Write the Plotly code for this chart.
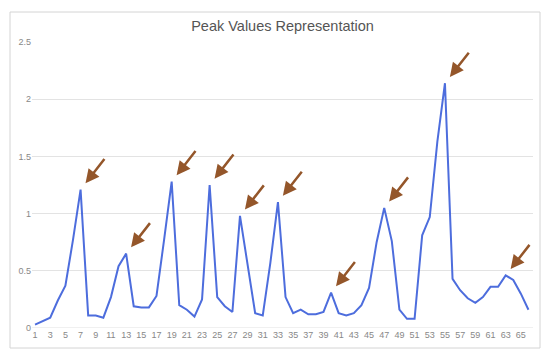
import plotly.graph_objects as go

# Data
x_index = list(range(1, 67))
values = [0.03, 0.06, 0.09, 0.24, 0.37, 0.77, 1.21, 0.11, 0.11, 0.09,
          0.27, 0.54, 0.65, 0.19, 0.18, 0.18, 0.28, 0.77, 1.28, 0.20,
          0.16, 0.10, 0.25, 1.25, 0.27, 0.19, 0.14, 0.98, 0.54, 0.13,
          0.11, 0.57, 1.10, 0.27, 0.13, 0.16, 0.12, 0.12, 0.14, 0.31,
          0.13, 0.11, 0.13, 0.20, 0.35, 0.75, 1.05, 0.76, 0.16, 0.08,
          0.08, 0.81, 0.97, 1.63, 2.14, 0.43, 0.33, 0.26, 0.22, 0.27,
          0.36, 0.36, 0.46, 0.42, 0.30, 0.16]
peak_indices = [7, 13, 19, 24, 28, 33, 40, 47, 55, 63]
x_tick_labels = [str(v) for v in range(1, 66, 2)]
y_tick_vals = [0, 0.5, 1, 1.5, 2, 2.5]
y_tick_labels = ["0", "0.5", "1", "1.5", "2", "2.5"]
title_text = "Peak Values Representation"

# page body has an 8px margin, so the figure is sized/offset to compensate
W, H = 542, 349
L, R, T, B = 24, 17, 34, 29
pw, ph = W - L - R, H - T - B

fig = go.Figure()
fig.add_trace(go.Scatter(
    x=x_index, y=values, mode="lines",
    line=dict(color="#4d6ddd", width=2),
    hoverinfo="x+y", showlegend=False,
))

annotations = []
for p in peak_indices:
    annotations.append(dict(
        x=p, y=values[p - 1], xref="x", yref="y",
        ax=25, ay=-32, showarrow=True, text="",
        arrowhead=2, arrowsize=1.1, arrowwidth=2.5,
        arrowcolor="#94562a", standoff=8,
    ))
fig.update_layout(annotations=annotations)

# outer frame (page coords 10..540 x 12..348)
fig.add_shape(type="rect", xref="paper", yref="paper",
              x0=(2 - L) / pw, x1=(532 - L) / pw,
              y0=(H - B - 340) / ph, y1=(H - B - 4) / ph,
              line=dict(color="#d4d4d4", width=1), layer="above")
# baseline at zero
fig.add_shape(type="line", xref="paper", yref="y",
              x0=0, x1=1, y0=0, y1=0,
              line=dict(color="#e0e0e0", width=1), layer="below")

fig.update_layout(
    width=W, height=H,
    margin=dict(l=L, r=R, t=T, b=B, autoexpand=False),
    paper_bgcolor="white", plot_bgcolor="white",
    font=dict(family="Liberation Sans, Arial, sans-serif", color="#888888", size=9),
    title=dict(text=title_text, x=0.5, xref="paper", xanchor="center",
               y=1 - 18 / H, yanchor="middle",
               font=dict(size=14.5, color="#555555")),
    xaxis=dict(range=[0.6, 66.6], tickvals=list(range(1, 66, 2)),
               ticktext=x_tick_labels, showgrid=False, zeroline=False,
               showline=False, ticks="", automargin=False,
               tickfont=dict(size=9, color="#888888")),
    yaxis=dict(range=[0, 2.5], tickvals=y_tick_vals, ticktext=y_tick_labels,
               showgrid=True, gridcolor="#e3e3e3", gridwidth=1,
               zeroline=False, showline=False, ticks="", automargin=False,
               tickfont=dict(size=9, color="#888888")),
)

fig.write_html("out.html")
